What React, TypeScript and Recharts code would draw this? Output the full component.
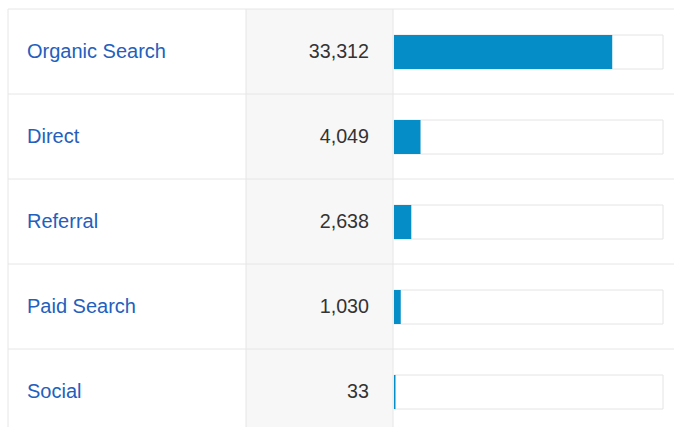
import { BarChart, Bar, XAxis, YAxis } from 'recharts';

const channels = ['Organic Search', 'Direct', 'Referral', 'Paid Search', 'Social'];
const sessions = [33312, 4049, 2638, 1030, 33];

const data = channels.map((name, i) => ({ name, sessions: sessions[i] }));
const total = sessions.reduce((a, b) => a + b, 0);

const W = 674;
const H = 436;
const TOP = 9;
const BOTTOM = 2;
const ROW = (H - TOP - BOTTOM) / channels.length;
const LINE = '#e6e6e6';
const FONT = '"Liberation Sans", Arial, Helvetica, sans-serif';

function RowTick(props: any) {
  const { y, payload } = props;
  const idx = payload.index;
  const top = y - ROW / 2;
  const bottom = y + ROW / 2;
  return (
    <g>
      <rect x={246} y={top} width={147} height={ROW} fill="#f7f7f7" />
      <line x1={8} x2={W} y1={top} y2={top} stroke={LINE} strokeWidth={1} />
      <line x1={8} x2={8} y1={top} y2={bottom} stroke={LINE} strokeWidth={1} />
      <line x1={246} x2={246} y1={top} y2={bottom} stroke={LINE} strokeWidth={1} />
      <line x1={393} x2={393} y1={top} y2={bottom} stroke={LINE} strokeWidth={1} />
      <text x={27} y={y} dy={6} fontSize={20} fill="#2360bd" fontFamily={FONT}>
        {payload.value}
      </text>
      <text x={369} y={y} dy={6} fontSize={19.7} fill="#333" textAnchor="end" fontFamily={FONT}>
        {sessions[idx].toLocaleString('en-US')}
      </text>
    </g>
  );
}

export default function App() {
  return (
    <div style={{ position: 'absolute', left: 0, top: 0, width: W, height: 427, overflow: 'hidden', background: '#fff' }}>
      <BarChart
        width={W}
        height={H}
        data={data}
        layout="vertical"
        margin={{ top: TOP, right: 11, bottom: BOTTOM, left: 0 }}
      >
        <XAxis type="number" domain={[0, total]} hide />
        <YAxis
          type="category"
          dataKey="name"
          width={394}
          axisLine={false}
          tickLine={false}
          tick={<RowTick />}
          interval={0}
        />
        <Bar
          dataKey="sessions"
          fill="#058dc7"
          barSize={34}
          minPointSize={1.5}
          background={{ fill: '#fff', stroke: '#e4e4e4', strokeWidth: 1 }}
          isAnimationActive={false}
        />
      </BarChart>
    </div>
  );
}
